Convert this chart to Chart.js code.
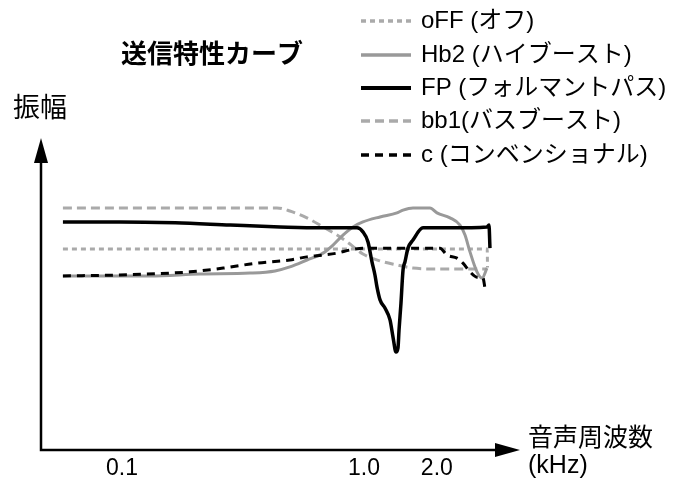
<!DOCTYPE html>
<html>
<head>
<meta charset="utf-8">
<script src="https://cdn.jsdelivr.net/npm/chart.js@4"></script>
<style>
  html, body { margin: 0; padding: 0; background: #fff; }
  #wrap { width: 691px; height: 479px; position: relative; }
</style>
</head>
<body>
<div id="wrap"><canvas id="curveChart"></canvas></div>
<script>
// frequency in kHz, amplitude in arbitrary units (0-100)
const offFreq = [0.057, 1.0, 3.23, 3.24]
const offAmp  = [64.4, 64.4, 64.4, 58.5]

const hb2Freq = [0.057, 0.13, 0.21, 0.338, 0.429, 0.494, 0.581, 0.677, 0.745, 0.819, 0.901, 0.99, 1.165, 1.369, 1.45, 1.594, 1.874, 2.003, 2.267, 2.493, 2.615, 2.742, 2.931, 3.074, 3.223]
const hb2Amp  = [55.8, 55.8, 56.4, 56.7, 57.4, 58.7, 60.9, 63.1, 65.7, 68.9, 71.5, 73.1, 74.7, 76.0, 76.9, 77.6, 77.6, 76.0, 74.4, 72.1, 68.9, 63.5, 57.1, 55.1, 58.3]

const fpFreq = [0.057, 0.098, 0.166, 0.28, 0.45, 0.658, 0.936, 0.99, 1.039, 1.079, 1.11, 1.132, 1.165, 1.221, 1.281, 1.318, 1.356, 1.382, 1.396, 1.422, 1.45, 1.477, 1.52, 1.594, 1.753, 2.267, 3.223, 3.285, 3.316]
const fpAmp  = [73.1, 73.1, 72.8, 72.1, 71.5, 71.2, 71.2, 69.9, 66.7, 60.3, 56.1, 52.2, 48.1, 45.5, 41.7, 36.2, 31.4, 32.7, 38.5, 47.1, 57.7, 60.3, 64.7, 67.3, 71.2, 71.2, 71.5, 72.1, 64.7]

const bb1Freq = [0.057, 0.13, 0.28, 0.437, 0.494, 0.581, 0.677, 0.774, 0.875, 0.99, 1.165, 1.37, 1.594, 2.06, 3.22]
const bb1Amp  = [77.6, 77.6, 77.6, 77.6, 76.6, 74.4, 71.5, 68.9, 66.0, 62.8, 60.6, 59.3, 58.3, 58.0, 58.0]

const cFreq = [0.057, 0.098, 0.158, 0.191, 0.262, 0.361, 0.494, 0.581, 0.677, 0.774, 0.875, 0.99, 1.165, 1.594, 2.061, 2.203, 2.423, 2.565, 2.742, 2.931, 3.103, 3.162]
const cAmp  = [55.8, 56.1, 56.7, 57.1, 58.3, 59.9, 60.9, 61.9, 62.5, 63.1, 64.1, 64.7, 64.7, 64.7, 64.7, 62.5, 61.5, 59.9, 57.1, 55.4, 55.1, 51.9]

const xTicks = [0.1, 1.0, 2.0]
const xTickLabels = ['0.1', '1.0', '2.0']

const legendLabels = ['oFF (オフ)', 'Hb2 (ハイブースト)', 'FP (フォルマントパス)', 'bb1(バスブースト)', 'c (コンベンショナル)']

const FONT = '"Liberation Sans", "Noto Sans CJK JP", sans-serif'

function points(xs, ys) {
  return xs.map((x, i) => ({ x: x, y: ys[i] }))
}

const series = [
  { label: legendLabels[0], data: points(offFreq, offAmp), borderColor: '#aaaaaa', borderWidth: 3, borderDash: [5, 4], order: 4 },
  { label: legendLabels[1], data: points(hb2Freq, hb2Amp), borderColor: '#999999', borderWidth: 3, borderDash: [], order: 2 },
  { label: legendLabels[2], data: points(fpFreq, fpAmp), borderColor: '#000000', borderWidth: 3.5, borderDash: [], order: 0 },
  { label: legendLabels[3], data: points(bb1Freq, bb1Amp), borderColor: '#aaaaaa', borderWidth: 3, borderDash: [9, 5], order: 3 },
  { label: legendLabels[4], data: points(cFreq, cAmp), borderColor: '#000000', borderWidth: 3, borderDash: [8, 6], order: 1 }
]

const decorations = {
  id: 'decorations',
  afterDraw(chart) {
    const ctx = chart.ctx
    const area = chart.chartArea
    const xScale = chart.scales.x
    ctx.save()

    // axes with arrows
    ctx.strokeStyle = '#000'
    ctx.fillStyle = '#000'
    ctx.lineWidth = 2.5
    ctx.beginPath()
    ctx.moveTo(area.left, area.top + 20)
    ctx.lineTo(area.left, area.bottom)
    ctx.lineTo(area.right - 20, area.bottom)
    ctx.stroke()

    ctx.beginPath()
    ctx.moveTo(area.left, area.top)
    ctx.lineTo(area.left - 7, area.top + 25)
    ctx.lineTo(area.left + 7, area.top + 25)
    ctx.closePath()
    ctx.fill()

    ctx.beginPath()
    ctx.moveTo(area.right, area.bottom)
    ctx.lineTo(area.right - 25, area.bottom - 7)
    ctx.lineTo(area.right - 25, area.bottom + 7)
    ctx.closePath()
    ctx.fill()

    // tick labels
    ctx.font = '23px ' + FONT
    ctx.textAlign = 'center'
    ctx.textBaseline = 'alphabetic'
    xTicks.forEach((v, i) => {
      ctx.fillText(xTickLabels[i], xScale.getPixelForValue(v), 475)
    })

    // axis titles
    ctx.textAlign = 'left'
    ctx.textBaseline = 'middle'
    ctx.font = '25px ' + FONT
    ctx.fillText('音声周波数', 528, 439)
    ctx.fillText('(kHz)', 528, 466)

    ctx.textAlign = 'center'
    ctx.font = '27px ' + FONT
    ctx.fillText('振幅', 40, 110)

    // title
    ctx.textAlign = 'left'
    ctx.font = 'bold 26px ' + FONT
    ctx.fillText('送信特性カーブ', 121, 56)

    // legend
    const rows = [21, 55, 88, 121, 155]
    ctx.font = '24px ' + FONT
    chart.data.datasets.forEach((ds, i) => {
      const y = rows[i]
      ctx.beginPath()
      ctx.strokeStyle = ds.borderColor
      ctx.lineWidth = ds.borderWidth + 0.5
      ctx.setLineDash(ds.borderDash)
      ctx.moveTo(361, y)
      ctx.lineTo(411, y)
      ctx.stroke()
      ctx.setLineDash([])
      ctx.fillStyle = '#000'
      ctx.fillText(ds.label, 421, y)
    })

    ctx.restore()
  }
}

new Chart(document.getElementById('curveChart'), {
  type: 'line',
  data: {
    datasets: series.map(s => Object.assign({
      fill: false,
      pointRadius: 0,
      cubicInterpolationMode: 'monotone'
    }, s))
  },
  options: {
    responsive: true,
    maintainAspectRatio: false,
    animation: false,
    layout: {
      padding: { left: 41, top: 138, right: 171, bottom: 29 }
    },
    plugins: {
      legend: { display: false },
      tooltip: { enabled: false }
    },
    scales: {
      x: {
        type: 'logarithmic',
        display: false,
        min: 0.04627,
        max: 4.413
      },
      y: {
        type: 'linear',
        display: false,
        min: 0,
        max: 100
      }
    }
  },
  plugins: [decorations]
})
</script>
</body>
</html>
